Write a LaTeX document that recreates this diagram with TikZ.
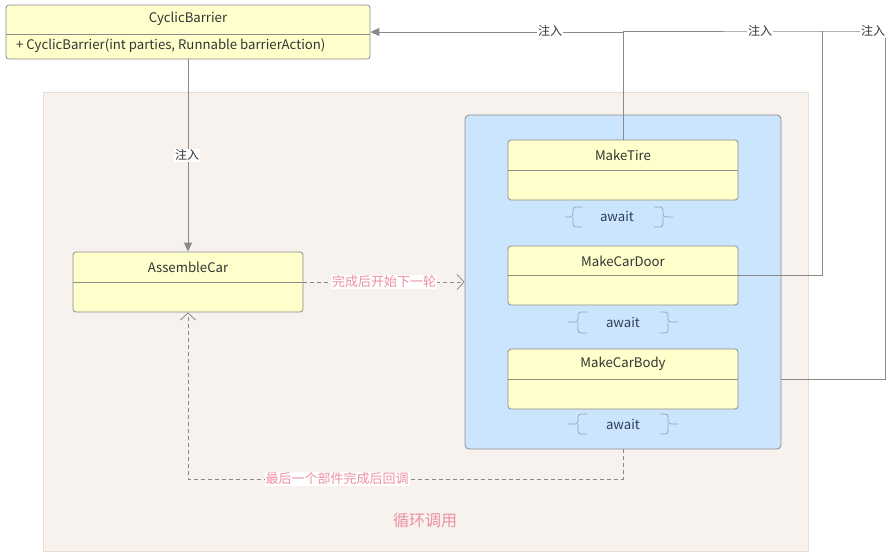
\documentclass[tikz,border=0pt]{standalone}
\usepackage{fontspec}
\setmainfont{Noto Sans CJK SC}
\usetikzlibrary{arrows.meta}
\definecolor{bgc}{HTML}{F7F2EE}
\definecolor{bgline}{HTML}{E6DED6}
\definecolor{bluec}{HTML}{CCE5FF}
\definecolor{yel}{HTML}{FFFFCC}
\definecolor{edgec}{HTML}{8C8C8C}
\definecolor{linec}{HTML}{8A8A8A}
\definecolor{txt}{HTML}{333333}
\definecolor{pinkc}{HTML}{EE8FA2}
\definecolor{bracec}{HTML}{8FA3B8}
\definecolor{awaitc}{HTML}{2F3F55}
\begin{document}
\begin{tikzpicture}[x=1pt,y=-1pt,
  font=\fontsize{13}{15}\selectfont, text=txt,
  clsbox/.style={draw=edgec, fill=yel, rounded corners=3pt, line width=0.8pt, inner sep=0pt},
  divline/.style={draw=edgec, line width=0.8pt},
  ttl/.style={inner sep=0pt, text=txt, font=\fontsize{13.2}{15}\selectfont},
  inj/.style={draw=linec, line width=0.9pt},
  injarrow/.style={inj, -{Triangle[length=9pt,width=8pt]}},
  dsh/.style={draw=linec, line width=0.8pt, dash pattern=on 4pt off 3pt},
  dsharrow/.style={dsh, -{Straight Barb[length=7pt,width=15pt,line width=0.8pt]}},
  injlbl/.style={fill=white, inner sep=1pt, text=txt, font=\fontsize{12}{14}\selectfont},
  pinklbl/.style={fill=white, inner sep=1pt, text=pinkc, font=\fontsize{13}{15}\selectfont},
  brc/.style={draw=bracec, line width=0.7pt, rounded corners=3pt},
  awt/.style={inner sep=0pt, text=awaitc, font=\fontsize{13.2}{15}\selectfont}
]
\useasboundingbox (0,0) rectangle (892,555);
\fill[white] (0,0) rectangle (892,555);

% background region
\node[draw=bgline, fill=bgc, minimum width=765pt, minimum height=459pt, inner sep=0pt] (region) at (425.5,321.5) {};
\node[text=pinkc, font=\fontsize{16}{18}\selectfont, inner sep=0pt] (loop) at (425,520) {循环调用};

% blue container
\node[draw=edgec, fill=bluec, rounded corners=4pt, line width=0.8pt, minimum width=316pt, minimum height=334pt, inner sep=0pt] (blue) at (623,282) {};

% CyclicBarrier
\node[clsbox, minimum width=364pt, minimum height=54pt] (cb) at (188,32) {};
\draw[divline] (cb.west |- 0,34) -- (cb.east |- 0,34);
\node[ttl] (cbt) at (188,19) {CyclicBarrier};
\node[ttl, anchor=west] (cbm) at (16,46) {+ CyclicBarrier(int parties, Runnable barrierAction)};

% AssembleCar
\node[clsbox, minimum width=230pt, minimum height=60pt] (asm) at (188,282) {};
\draw[divline] (asm.west) -- (asm.east);
\node[ttl] (asmt) at (188,267) {AssembleCar};

% MakeTire
\node[clsbox, minimum width=230pt, minimum height=60pt] (tire) at (623,170) {};
\draw[divline] (tire.west) -- (tire.east);
\node[ttl] (tiret) at (623,155) {MakeTire};

% MakeCarDoor
\node[clsbox, minimum width=230pt, minimum height=59pt] (door) at (623,275.5) {};
\draw[divline] (door.west) -- (door.east);
\node[ttl] (doort) at (623,261) {MakeCarDoor};

% MakeCarBody
\node[clsbox, minimum width=230pt, minimum height=60pt] (body) at (623,379) {};
\draw[divline] (body.west) -- (body.east);
\node[ttl] (bodyt) at (623,364) {MakeCarBody};

% await groups
\node[awt] (aw1) at (617,216) {await};
\draw[brc] (582,207) -- (573,207) -- (573,217) -- (565,217);
\draw[brc] (573,217) -- (573,227) -- (582,227);
\draw[brc] (654,207) -- (663,207) -- (663,217) -- (673,217);
\draw[brc] (663,217) -- (663,227) -- (654,227);

\node[awt] (aw2) at (623,322) {await};
\draw[brc] (587,312) -- (578,312) -- (578,322) -- (568,322);
\draw[brc] (578,322) -- (578,333) -- (587,333);
\draw[brc] (660,312) -- (668,312) -- (668,322) -- (678,322);
\draw[brc] (668,322) -- (668,333) -- (660,333);

\node[awt] (aw3) at (623,424) {await};
\draw[brc] (587,414) -- (578,414) -- (578,424) -- (568,424);
\draw[brc] (578,424) -- (578,434) -- (587,434);
\draw[brc] (660,414) -- (668,414) -- (668,424) -- (678,424);
\draw[brc] (668,424) -- (668,434) -- (660,434);

% injection connectors
\coordinate (c1) at (623,31);
\coordinate (c2) at (822,31);
\coordinate (c3) at (885,31);
\draw[injarrow] (cb.south) -- (asm.north);
\draw[inj] (door.east) -| (c2);
\draw[inj] (blue.east |- body) -| (c3);
\draw[inj] (c3) -- (c2) -- (c1);
\draw[injarrow] (tire.north) |- (cb.east);
\node[injlbl] (l1) at (187,155) {注入};
\node[injlbl] (l2) at (550,31) {注入};
\node[injlbl] (l3) at (760,31) {注入};
\node[injlbl] (l4) at (873,31) {注入};

% dashed connectors
\draw[dsharrow] (asm.east) -- (blue.west |- asm.east);
\node[pinklbl] (p1) at (384,282) {完成后开始下一轮};
\coordinate (d1) at (623,479);
\draw[dsharrow] (blue.south) -- (d1) -| (asm.south);
\node[pinklbl] (p2) at (337,479) {最后一个部件完成后回调};
\end{tikzpicture}
\end{document}
